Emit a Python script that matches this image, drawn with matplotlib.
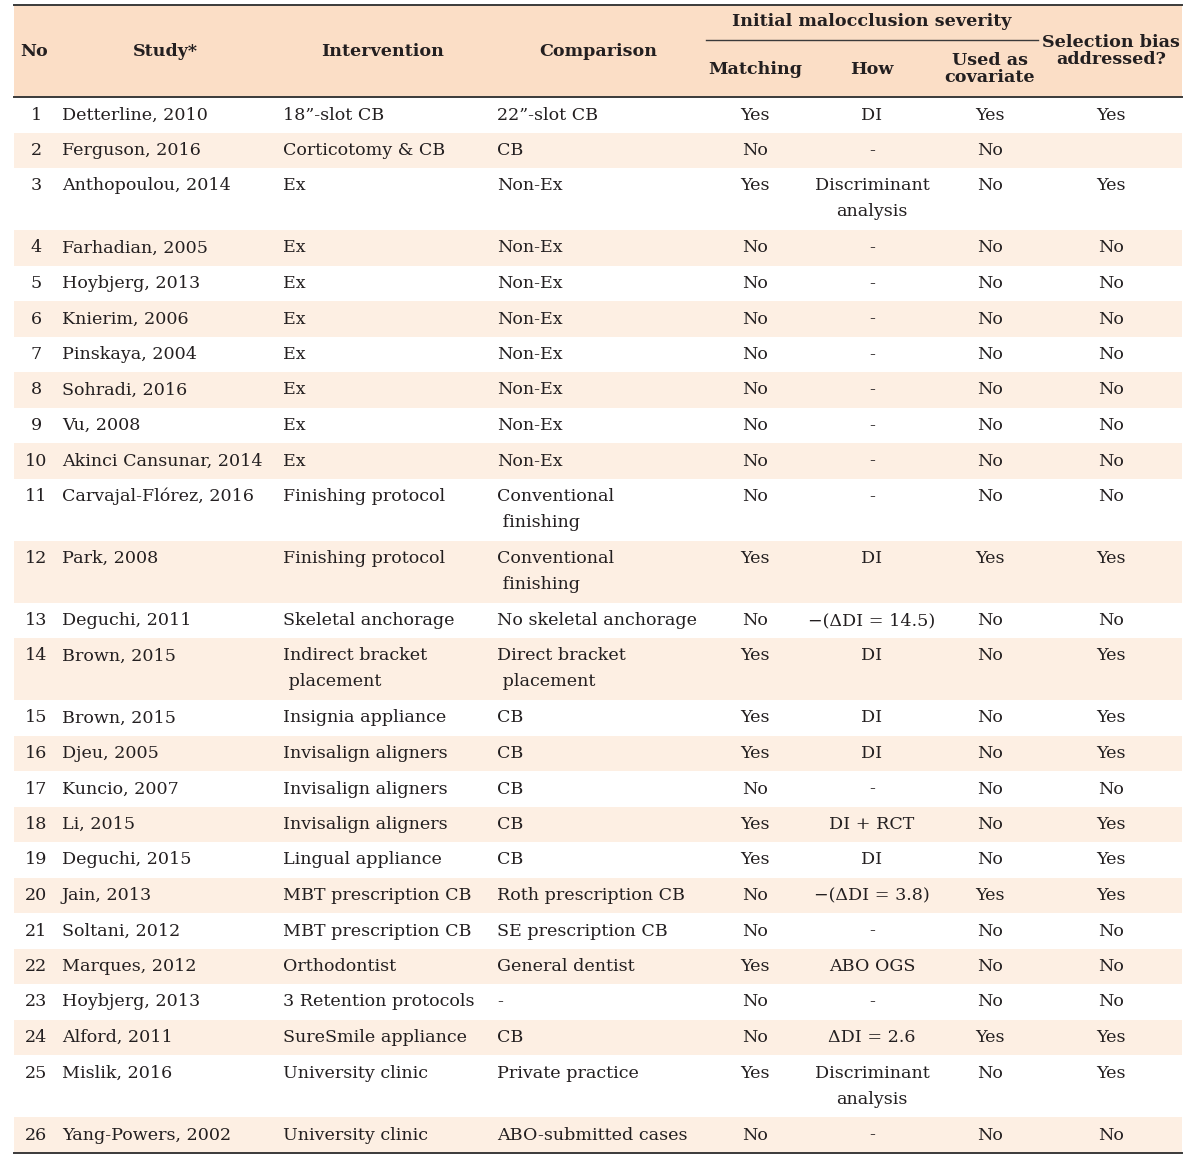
import matplotlib.pyplot as plt
from matplotlib.patches import Rectangle

# table content
numbers = [str(i) for i in range(1, 27)]
studies = ["Detterline, 2010", "Ferguson, 2016", "Anthopoulou, 2014", "Farhadian, 2005",
           "Hoybjerg, 2013", "Knierim, 2006", "Pinskaya, 2004", "Sohradi, 2016", "Vu, 2008",
           "Akinci Cansunar, 2014", "Carvajal-Flórez, 2016", "Park, 2008", "Deguchi, 2011",
           "Brown, 2015", "Brown, 2015", "Djeu, 2005", "Kuncio, 2007", "Li, 2015",
           "Deguchi, 2015", "Jain, 2013", "Soltani, 2012", "Marques, 2012", "Hoybjerg, 2013",
           "Alford, 2011", "Mislik, 2016", "Yang-Powers, 2002"]
interventions = ["18\u201d-slot CB", "Corticotomy & CB", "Ex", "Ex", "Ex", "Ex", "Ex", "Ex", "Ex", "Ex",
                 "Finishing protocol", "Finishing protocol", "Skeletal anchorage",
                 "Indirect bracket\n placement", "Insignia appliance", "Invisalign aligners",
                 "Invisalign aligners", "Invisalign aligners", "Lingual appliance",
                 "MBT prescription CB", "MBT prescription CB", "Orthodontist",
                 "3 Retention protocols", "SureSmile appliance", "University clinic",
                 "University clinic"]
comparisons = ["22\u201d-slot CB", "CB", "Non-Ex", "Non-Ex", "Non-Ex", "Non-Ex", "Non-Ex", "Non-Ex",
               "Non-Ex", "Non-Ex", "Conventional\n finishing", "Conventional\n finishing",
               "No skeletal anchorage", "Direct bracket\n placement", "CB", "CB", "CB", "CB",
               "CB", "Roth prescription CB", "SE prescription CB", "General dentist", "-", "CB",
               "Private practice", "ABO-submitted cases"]
matching = ["Yes", "No", "Yes", "No", "No", "No", "No", "No", "No", "No", "No", "Yes", "No",
            "Yes", "Yes", "Yes", "No", "Yes", "Yes", "No", "No", "Yes", "No", "No", "Yes", "No"]
how = ["DI", "-", "Discriminant\nanalysis", "-", "-", "-", "-", "-", "-", "-", "-", "DI",
       "\u2212(\u0394DI = 14.5)", "DI", "DI", "DI", "-", "DI + RCT", "DI", "\u2212(\u0394DI = 3.8)", "-",
       "ABO OGS", "-", "\u0394DI = 2.6", "Discriminant\nanalysis", "-"]
covariate = ["Yes", "No", "No", "No", "No", "No", "No", "No", "No", "No", "No", "Yes", "No",
             "No", "No", "No", "No", "No", "No", "Yes", "No", "No", "No", "Yes", "No", "No"]
bias = ["Yes", "", "Yes", "No", "No", "No", "No", "No", "No", "No", "No", "Yes", "No", "Yes",
        "Yes", "Yes", "No", "Yes", "Yes", "Yes", "No", "No", "No", "Yes", "Yes", "No"]

W, H = 1200, 1157
fig = plt.figure(figsize=(12, 11.57), dpi=100)
ax = fig.add_axes([0, 0, 1, 1])
ax.set_xlim(0, W)
ax.set_ylim(H, 0)
ax.axis("off")

FONT = "DejaVu Serif"
FS = 12.6
TXT = "#231f20"
HEAD_BG = "#fbdec6"
ROW_BG = "#fdefe3"
LINE = "#3a3a3a"
x0, x1 = 14, 1182

# header
ax.add_patch(Rectangle((x0, 5), x1 - x0, 92, color=HEAD_BG, lw=0))
hk = dict(fontfamily=FONT, fontsize=FS, fontweight="bold", color=TXT, va="center", ha="center")
ax.text(34, 51, "No", **hk)
ax.text(165, 51, "Study*", **hk)
ax.text(383, 51, "Intervention", **hk)
ax.text(598, 51, "Comparison", **hk)
ax.text(872, 22, "Initial malocclusion severity", **hk)
ax.plot([706, 1038], [40, 40], color=LINE, lw=1.0)
ax.text(755, 69, "Matching", **hk)
ax.text(872, 69, "How", **hk)
ax.text(990, 69, "Used as\ncovariate", linespacing=1.0, **hk)
ax.text(1111, 51, "Selection bias\naddressed?", linespacing=1.0, **hk)

# rows
y = 97
rk = dict(fontfamily=FONT, fontsize=FS, color=TXT, va="center")
for i in range(len(numbers)):
    two = any("\n" in c for c in (interventions[i], comparisons[i], how[i]))
    h = 62 if two else 35.5
    if i % 2 == 1:
        ax.add_patch(Rectangle((x0, y), x1 - x0, h, color=ROW_BG, lw=0))
    ty = y + 18
    ax.text(36, ty, numbers[i], ha="center", **rk)
    ax.text(62, ty, studies[i], ha="left", **rk)
    for x, s, ha in [(283, interventions[i], "left"), (497, comparisons[i], "left"),
                     (872, how[i], "center")]:
        for k, part in enumerate(s.split("\n")):
            ax.text(x, ty + 26 * k, part, ha=ha, **rk)
    ax.text(755, ty, matching[i], ha="center", **rk)
    ax.text(990, ty, covariate[i], ha="center", **rk)
    ax.text(1111, ty, bias[i], ha="center", **rk)
    y += h

ax.plot([x0, x1], [5, 5], color=LINE, lw=1.4)
ax.plot([x0, x1], [97, 97], color=LINE, lw=1.4)
ax.plot([x0, x1], [y, y], color=LINE, lw=1.4)

fig.savefig("out.png", dpi=100)
